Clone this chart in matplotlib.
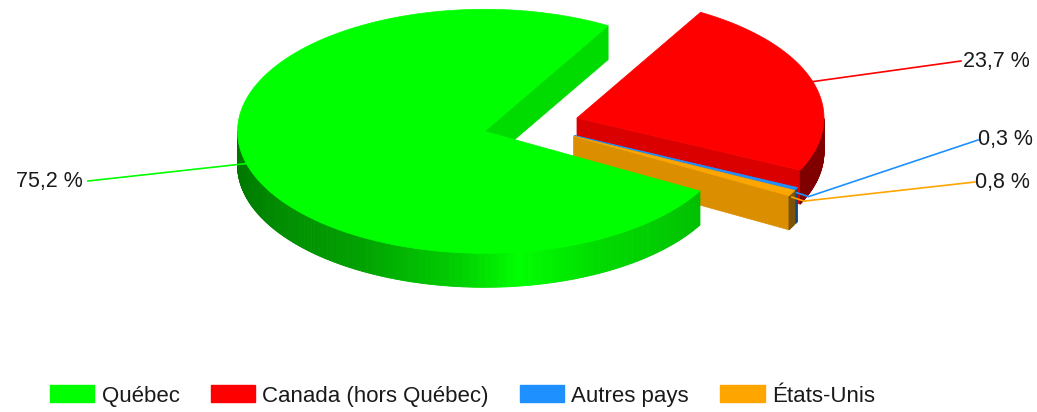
import matplotlib.pyplot as plt
from matplotlib.patches import Polygon, Patch
from matplotlib.collections import PolyCollection
import numpy as np

plt.rcParams['font.family'] = ['Liberation Sans', 'DejaVu Sans']

labels = ['Québec', 'Canada (hors Québec)', 'Autres pays', 'États-Unis']
values = [75.2, 23.7, 0.3, 0.8]
pct_text = ['75,2 %', '23,7 %', '0,3 %', '0,8 %']
colors = ['#00ff00', '#ff0000', '#1e90ff', '#ffa500']

W, H = 1037, 412
cx, cy = 531, 125          # pie centre (pixels)
rx, ry = 247, 122          # ellipse radii
depth = 34
explode = 0.195
start = -29.3              # slices run clockwise from here
draw_order = [1, 2, 3, 0]
label_pos = [(83, 181), (963, 61), (978, 140), (975, 182)]

# shading of the outer wall (angle in degrees -> brightness)
shade_ang = [180, 240, 265, 278, 297, 327, 360]
shade_val = [0.44, 0.63, 0.82, 1.0, 0.86, 0.76, 0.7]

fig = plt.figure(figsize=(W / 100, H / 100), dpi=100)
ax = fig.add_axes([0, 0, 1, 1])
ax.set_xlim(0, W)
ax.set_ylim(H, 0)
ax.axis('off')


def scale(c, f):
    r, g, b = plt.matplotlib.colors.to_rgb(c)
    return (r * f, g * f, b * f)


def pt(ox, oy, a, r=1.0, z=0.0):
    t = np.radians(a)
    return (ox + r * rx * np.cos(t), oy - r * ry * np.sin(t) + z)


cum = np.concatenate([[0], np.cumsum(values)])
slices = []
for i, v in enumerate(values):
    a_hi = start - cum[i] * 3.6
    a_lo = a_hi - v * 3.6
    m = (a_lo + a_hi) / 2
    ox = cx + explode * rx * np.cos(np.radians(m))
    oy = cy - explode * ry * np.sin(np.radians(m))
    slices.append((a_lo, a_hi, m, ox, oy))

for i in draw_order:
    a_lo, a_hi, m, ox, oy = slices[i]
    col = colors[i]
    # cut faces
    for a, vis in ((a_lo, np.cos(np.radians(a_lo)) > 0),
                   (a_hi, np.cos(np.radians(a_hi)) < 0)):
        if vis:
            face = [(ox, oy), pt(ox, oy, a), pt(ox, oy, a, z=depth), (ox, oy + depth)]
            ax.add_patch(Polygon(face, closed=True, fc=scale(col, 0.86),
                                 ec=scale(col, 0.86), lw=0.5))
    # outer wall (front half only)
    angs = np.linspace(a_lo, a_hi, max(int((a_hi - a_lo) * 2), 2) + 1)
    quads, fcs = [], []
    for a0, a1 in zip(angs[:-1], angs[1:]):
        am = ((a0 + a1) / 2) % 360
        if am <= 180:
            continue
        if i == 0:
            f = np.interp(am, shade_ang, shade_val)
        else:
            f = 0.5
        quads.append([pt(ox, oy, a0), pt(ox, oy, a1),
                      pt(ox, oy, a1, z=depth), pt(ox, oy, a0, z=depth)])
        fcs.append(scale(col, f))
    if quads:
        ax.add_collection(PolyCollection(quads, facecolors=fcs, edgecolors=fcs, lw=0.6))
    # top
    arc = [pt(ox, oy, a) for a in np.linspace(a_lo, a_hi, 400)]
    ax.add_patch(Polygon([(ox, oy)] + arc, closed=True, fc=col, ec=col, lw=0.5))

# leader lines and labels
for i, (a_lo, a_hi, m, ox, oy) in enumerate(slices):
    x0, y0 = pt(ox, oy, m)
    lx, ly = label_pos[i]
    if values[i] < 1:
        xs = [x0, x0 + 12, lx]
        ys = [y0 + 4, y0 + 8, ly]
    else:
        xs, ys = [x0, lx + (5 if i == 0 else -2)], [y0, ly]
    ax.plot(xs, ys, color=colors[i], lw=1.2)
    ha = 'right' if lx < cx else 'left'
    ax.text(lx, ly, pct_text[i], ha=ha, va='center', fontsize=15.5, color='#1a1a1a')

handles = [Patch(facecolor=c, edgecolor=c) for c in colors]
fig.legend(handles, labels, loc='center left', bbox_to_anchor=(50 / W, 1 - 396 / H),
           ncol=4, frameon=False, fontsize=16, handlelength=2.0, handleheight=0.8,
           handletextpad=0.32, columnspacing=1.4, borderaxespad=0, borderpad=0,
           labelcolor='#1a1a1a')

fig.savefig('out.png', dpi=100)
